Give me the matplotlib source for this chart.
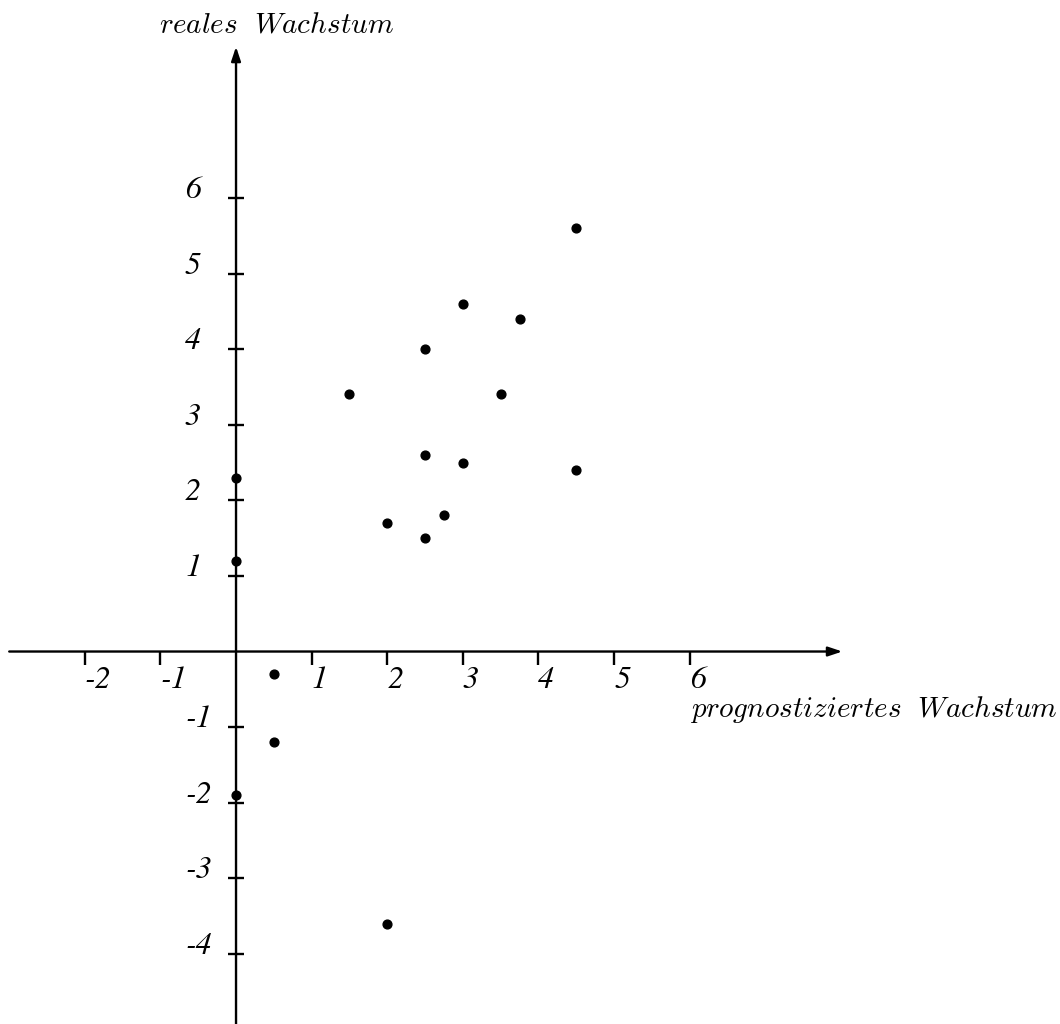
import matplotlib
matplotlib.use("Agg")
import matplotlib.pyplot as plt

plt.rcParams['mathtext.fontset'] = 'cm'

# prognostiziertes vs. reales Wachstum
prognose = [4.5, 3.0, 3.75, 2.5, 1.5, 3.5, 2.5, 3.0, 4.5, 0.0, 2.0, 2.75, 2.5, 0.0, 0.5, 0.5, 0.0, 2.0]
real = [5.6, 4.6, 4.4, 4.0, 3.4, 3.4, 2.6, 2.5, 2.4, 2.3, 1.7, 1.8, 1.5, 1.2, -0.3, -1.2, -1.9, -3.6]

xticks = [-2, -1, 1, 2, 3, 4, 5, 6]
yticks = [-4, -3, -2, -1, 1, 2, 3, 4, 5, 6]

fig = plt.figure(figsize=(10.6, 10.24), dpi=100)
ax = fig.add_axes([0, 0, 1, 1])
ax.set_xlim(-3.122, 10.899)
ax.set_ylim(-4.927, 8.618)

for s in ax.spines.values():
    s.set_visible(False)
ax.spines['bottom'].set_position(('data', 0))
ax.spines['left'].set_position(('data', 0))

# Achsen mit Pfeil
arrow = dict(arrowstyle='-|>,head_length=0.6,head_width=0.2', lw=1.7, color='black',
             shrinkA=0, shrinkB=0, mutation_scale=14)
ax.annotate('', xy=(8.02, 0), xytext=(-3.0, 0), arrowprops=arrow)
ax.annotate('', xy=(0, 8.0), xytext=(0, -5.0), arrowprops=arrow)

tickfont = dict(family='STIXGeneral', style='italic', size=23)

ax.set_xticks(xticks)
ax.set_xticklabels([str(t) for t in xticks], ha='left', va='top', fontdict=tickfont)
ax.set_yticks(yticks)
ax.set_yticklabels([str(t) for t in yticks], ha='left', va='baseline', fontdict=tickfont)
ax.tick_params(axis='x', direction='out', length=9.4, width=1.7, pad=1)
ax.tick_params(axis='y', direction='inout', length=11.5, width=1.7, pad=31)
ax.xaxis.set_ticks_position('bottom')
ax.yaxis.set_ticks_position('left')

ax.scatter(prognose, real, s=40, color='black', zorder=3, clip_on=False)

ax.text(0.53, 8.19, r'$reales\ \ Wachstum$', fontsize=21, ha='center', va='baseline')
ax.text(6.0, -0.87, r'$prognostiziertes\ \ Wachstum$', fontsize=21, ha='left', va='baseline')

plt.savefig('out.png', dpi=100)
